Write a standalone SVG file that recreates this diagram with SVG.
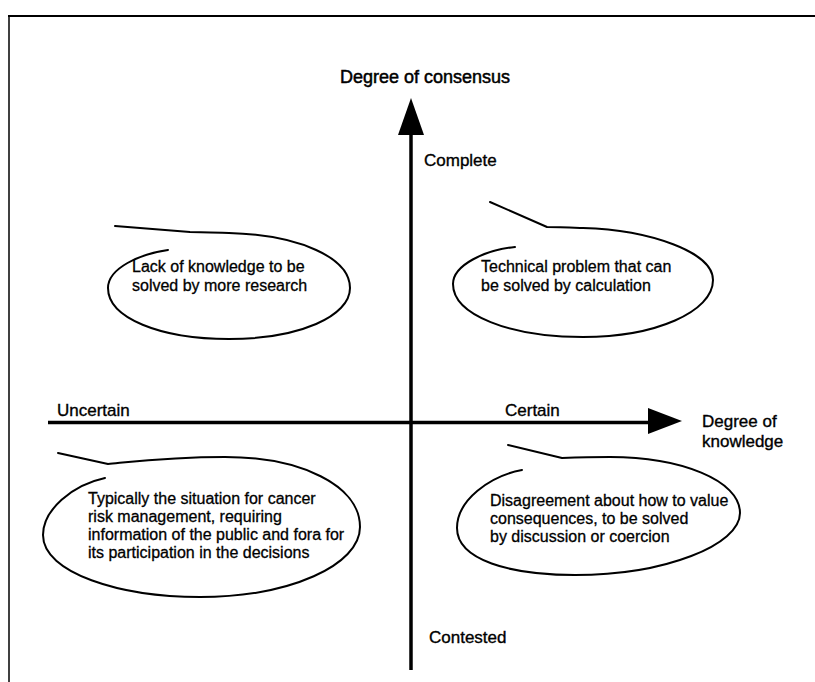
<svg xmlns="http://www.w3.org/2000/svg" width="815" height="682" viewBox="0 0 815 682">
<style>
.frame{stroke:#000;fill:none}
.axis{stroke:#000;stroke-width:3.5;fill:none}
.bubble{stroke:#000;stroke-width:2;fill:none;stroke-linejoin:round;stroke-linecap:round}
.lbl{font-family:"Liberation Sans",Arial,Helvetica,sans-serif;font-size:17px;fill:#000;stroke:#000;stroke-width:0.35}
.title{font-family:"Liberation Sans",Arial,Helvetica,sans-serif;font-size:18px;fill:#000;stroke:#000;stroke-width:0.5}
.txt{font-family:"Liberation Sans",Arial,Helvetica,sans-serif;font-size:16px;fill:#000;stroke:#000;stroke-width:0.3}
</style>
<rect width="815" height="682" fill="#fff"/>
<g id="frame">
<line class="frame" x1="8" y1="16" x2="815" y2="16" stroke-width="2"/>
<line class="frame" x1="9" y1="16" x2="9" y2="682" stroke-width="1.5"/>
</g>
<g id="connectors">
<line class="axis" x1="411" y1="670" x2="411" y2="130"/>
<polygon points="411,98 398,135 424,135" fill="#000"/>
<line class="axis" x1="48" y1="422.5" x2="652" y2="422.5"/>
<polygon points="682,421 648,408 648,434" fill="#000"/>
</g>
<g id="axis-labels">
<text class="title" x="340" y="83">Degree of consensus</text>
<text class="lbl" x="424" y="166">Complete</text>
<text class="lbl" x="429" y="643">Contested</text>
<text class="lbl" x="57" y="416">Uncertain</text>
<text class="lbl" x="505" y="416">Certain</text>
<text class="lbl" x="702" y="427">Degree of</text>
<text class="lbl" x="702" y="447">knowledge</text>
</g>
<g id="bubble-research">
<path class="bubble" d="M168,250 C140,254 108,268 108,288 C108,318 160,339 229,339 C300,339 350,316 350,288 C350,258 300,235 229,233 C215,232.5 200,232 190,232 L115,226"/>
<text class="txt" x="132" y="272">Lack of knowledge to be</text>
<text class="txt" x="132" y="291">solved by more research</text>
</g>
<g id="bubble-technical">
<path class="bubble" d="M515,247 C485,250 453,265 453,284 C453,315 510,337 583,337 C655,337 713,312 713,280 C713,252 650,230 583,228 C570,227.5 558,227 547,227 L490,202"/>
<text class="txt" x="481" y="272">Technical problem that can</text>
<text class="txt" x="481" y="291">be solved by calculation</text>
</g>
<g id="bubble-cancer">
<path class="bubble" d="M105,478 C72,485 43,510 43,535 C43,573 120,597 200,597 C290,597 360,565 360,527 C360,485 300,457 225,457 C170,457 130,462 108,464 L58,453"/>
<text class="txt" x="88" y="504">Typically the situation for cancer</text>
<text class="txt" x="88" y="522">risk management, requiring</text>
<text class="txt" x="88" y="540">information of the public and fora for</text>
<text class="txt" x="88" y="558">its participation in the decisions</text>
</g>
<g id="bubble-disagreement">
<path class="bubble" d="M522,470 C490,476 457,500 457,528 C457,560 510,575 575,575 C665,575 740,545 740,513 C740,480 680,457 610,457 C592,457 575,457.5 562,458 L508,445"/>
<text class="txt" x="490" y="506">Disagreement about how to value</text>
<text class="txt" x="490" y="524">consequences, to be solved</text>
<text class="txt" x="490" y="542">by discussion or coercion</text>
</g>
</svg>
